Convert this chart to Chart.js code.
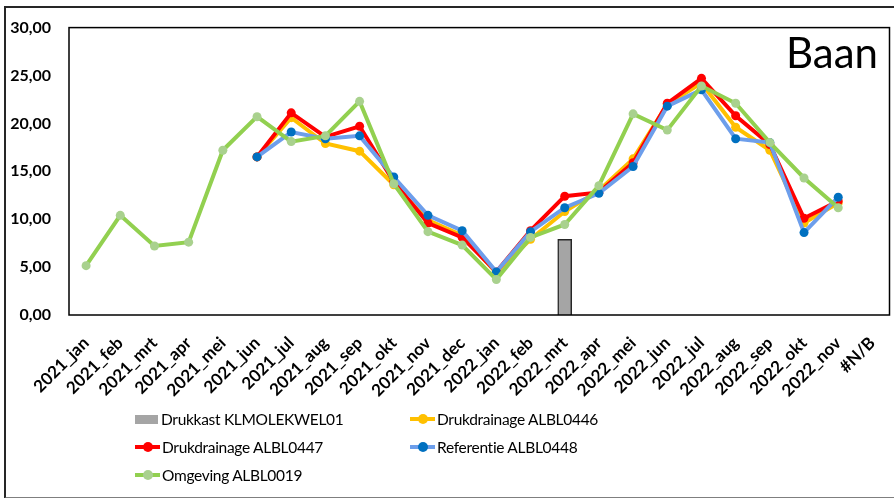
<!DOCTYPE html>
<html>
<head>
<meta charset="utf-8">
<script src="https://cdn.jsdelivr.net/npm/chart.js@4.4.1/dist/chart.umd.min.js"></script>
<style>
    html, body { margin: 0; padding: 0; background: #fff; }
    .wrap { position: relative; width: 894px; height: 498px; overflow: hidden; }
    #chart { position: absolute; left: 0; top: 0; }
    .frame {
        position: absolute; left: 4px; top: 6px; width: 900px; height: 489px;
        border-left: 2px solid #262626; border-top: 2px solid #262626; border-bottom: 2px solid #7f7f7f;
        pointer-events: none;
    }
    .legend { position: absolute; left: 0; top: 0; font-family: Lato, 'Noto Sans', sans-serif; font-size: 15.5px; letter-spacing: -0.3px; color: #000; }
    .legend-item { position: absolute; display: flex; align-items: center; white-space: nowrap; height: 24px; }
    .legend-box { width: 23px; height: 9px; background: #a5a5a5; margin-right: 3px; }
    .legend-line { position: relative; width: 25px; height: 4px; margin-right: 2px; }
    .legend-line span { position: absolute; left: 8px; top: -3px; width: 10px; height: 10px; border-radius: 50%; }
</style>
</head>
<body>
<div class="wrap">
    <canvas id="chart" width="894" height="498"></canvas>
    <div class="frame"></div>
    <div class="legend" id="legend"></div>
</div>
<script>
/* ── Data ── */
const months = [
    '2021_jan', '2021_feb', '2021_mrt', '2021_apr', '2021_mei', '2021_jun',
    '2021_jul', '2021_aug', '2021_sep', '2021_okt', '2021_nov', '2021_dec',
    '2022_jan', '2022_feb', '2022_mrt', '2022_apr', '2022_mei', '2022_jun',
    '2022_jul', '2022_aug', '2022_sep', '2022_okt', '2022_nov', '#N/B'
];

const drukkast = [null, null, null, null, null, null, null, null, null, null, null, null,
    null, null, 7.9, null, null, null, null, null, null, null, null, null];

const albl0446 = [null, null, null, null, null, 16.5, 20.6, 17.9, 17.1, 13.6, 9.9, 8.3,
    4.4, 7.9, 10.8, 13.0, 16.3, 22.0, 24.2, 19.6, 17.2, 9.6, 11.7, null];

const albl0447 = [null, null, null, null, null, 16.5, 21.1, 18.6, 19.7, 13.9, 9.6, 8.1,
    4.5, 8.8, 12.4, 12.8, 15.9, 22.1, 24.7, 20.8, 17.8, 10.1, 11.9, null];

const albl0448 = [null, null, null, null, null, 16.5, 19.1, 18.4, 18.7, 14.4, 10.4, 8.8,
    4.5, 8.7, 11.2, 12.7, 15.5, 21.8, 23.5, 18.4, 18.0, 8.6, 12.3, null];

const albl0019 = [5.15, 10.4, 7.2, 7.6, 17.2, 20.7, 18.1, 18.7, 22.3, 13.7, 8.7, 7.3,
    3.7, 8.1, 9.45, 13.5, 21.0, 19.3, 23.9, 22.1, 18.0, 14.3, 11.2, null];

const yTicks = [0, 5, 10, 15, 20, 25, 30];

/* ── Helpers ── */
function lineSet(label, data, lineColor, pointColor, order) {
    return {
        type: 'line',
        label: label,
        data: data,
        borderColor: lineColor,
        backgroundColor: pointColor,
        borderWidth: 4,
        pointRadius: 4.5,
        pointBackgroundColor: pointColor,
        pointBorderColor: pointColor,
        pointBorderWidth: 0,
        tension: 0,
        spanGaps: false,
        order: order,
    };
}

const series = [
    { label: 'Drukkast KLMOLEKWEL01', kind: 'box' },
    { label: 'Drukdrainage ALBL0446', line: '#ffc000', point: '#ffc000' },
    { label: 'Drukdrainage ALBL0447', line: '#ff0000', point: '#ff0000' },
    { label: 'Referentie ALBL0448', line: '#6d9eeb', point: '#0070c0' },
    { label: 'Omgeving ALBL0019', line: '#92d050', point: '#a9d18e' },
];

/* Plot frame + title plugin */
const framePlugin = {
    id: 'frame',
    afterDraw(chart) {
        const { ctx, chartArea: a } = chart;
        ctx.save();
        ctx.strokeStyle = '#000';
        ctx.lineWidth = 1.5;
        ctx.strokeRect(a.left, a.top, a.right - a.left, a.bottom - a.top);
        ctx.fillStyle = '#000';
        ctx.font = '42px Lato, "Noto Sans", sans-serif';
        ctx.textAlign = 'right';
        ctx.textBaseline = 'alphabetic';
        ctx.fillText('Baan', 878, 68);
        ctx.restore();
    }
};

/* ── Chart ── */
function initChart() {
    const ctx = document.getElementById('chart');

    new Chart(ctx, {
        data: {
            labels: months,
            datasets: [
                {
                    type: 'bar',
                    label: series[0].label,
                    data: drukkast,
                    backgroundColor: '#a5a5a5',
                    borderColor: '#262626',
                    borderWidth: 1.5,
                    barThickness: 14,
                    order: 5,
                },
                lineSet(series[1].label, albl0446, series[1].line, series[1].point, 4),
                lineSet(series[2].label, albl0447, series[2].line, series[2].point, 3),
                lineSet(series[3].label, albl0448, series[3].line, series[3].point, 2),
                lineSet(series[4].label, albl0019, series[4].line, series[4].point, 1),
            ]
        },
        options: {
            responsive: false,
            animation: false,
            layout: {
                padding: { top: 24, right: 3, left: 0, bottom: 93 }
            },
            plugins: {
                legend: { display: false },
                tooltip: { enabled: false },
            },
            scales: {
                x: {
                    grid: { display: false, drawTicks: false },
                    border: { display: false },
                    afterFit(scale) {
                        scale.height = 90;
                        scale.paddingLeft = 0;
                        scale.paddingRight = 0;
                    },
                    ticks: {
                        color: '#000',
                        autoSkip: false,
                        minRotation: 45,
                        maxRotation: 45,
                        padding: 18,
                        font: { family: "Lato, 'Noto Sans', sans-serif", size: 17, weight: 'bold' },
                    }
                },
                y: {
                    min: 0,
                    max: 30,
                    afterFit(scale) { scale.width = 69; },
                    afterBuildTicks(scale) {
                        scale.ticks = yTicks.map(v => ({ value: v }));
                    },
                    grid: { display: false, drawTicks: false },
                    border: { display: false },
                    ticks: {
                        color: '#000',
                        padding: 18,
                        font: { family: "Lato, 'Noto Sans', sans-serif", size: 16, weight: 'bold' },
                        callback: function(value) {
                            return value.toFixed(2).replace('.', ',');
                        }
                    }
                }
            }
        },
        plugins: [framePlugin]
    });

    buildLegend();
}

function buildLegend() {
    const container = document.getElementById('legend');
    const spots = [[135, 407], [410, 407], [135, 435], [410, 435], [135, 463]];

    container.innerHTML = series.map((s, i) => {
        const marker = s.kind === 'box'
            ? '<div class="legend-box"></div>'
            : `<div class="legend-line" style="background:${s.line}"><span style="background:${s.point}"></span></div>`;
        return `<div class="legend-item" style="left:${spots[i][0]}px;top:${spots[i][1]}px">${marker}<span>${s.label}</span></div>`;
    }).join('');
}

initChart();
</script>
</body>
</html>
